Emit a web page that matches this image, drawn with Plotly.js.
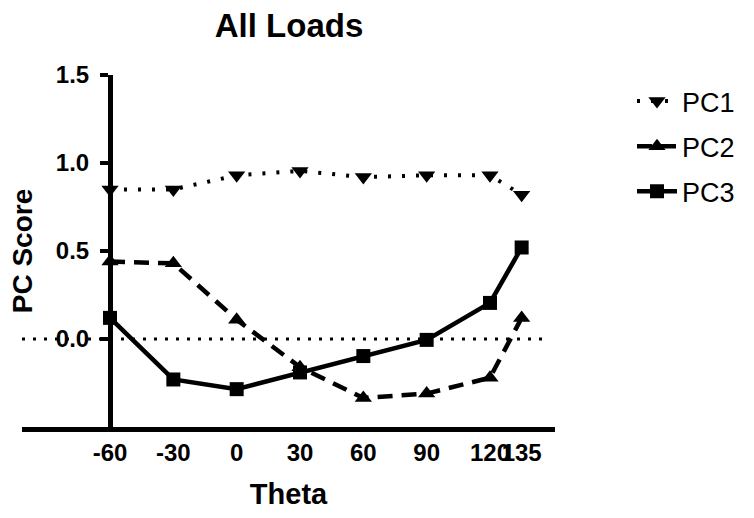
<!DOCTYPE html>
<html>
<head>
<meta charset="utf-8">
<script src="https://cdn.plot.ly/plotly-3.0.1.min.js"></script>
<style>html,body{margin:0;padding:0;background:#fff;}#chart{width:754px;height:518px;}</style>
</head>
<body>
<div id="chart"></div>
<script>
const theta = [-60, -30, 0, 30, 60, 90, 120, 135];
const tickLabels = ["-60", "-30", "0", "30", "60", "90", "120", "135"];
const pc1 = [0.85, 0.85, 0.93, 0.955, 0.92, 0.93, 0.93, 0.82];
const pc2 = [0.44, 0.43, 0.11, -0.16, -0.335, -0.31, -0.22, 0.12];
const pc3 = [0.12, -0.23, -0.285, -0.19, -0.097, -0.005, 0.205, 0.52];
const yTicks = [0, 0.5, 1.0, 1.5];
const yTickLabels = ["0.0", "0.5", "1.0", "1.5"];

const FONT = "Liberation Sans, Arial, Helvetica, sans-serif";

const traces = [
  {x: theta, y: pc1, name: "PC1", legendgroup: "a", mode: "lines+markers",
   line: {color: "#000", width: 4, dash: "3px,11px"},
   marker: {symbol: "triangle-down", size: 15, color: "#000"}},
  {x: theta, y: pc2, name: "PC2", legendgroup: "b", mode: "lines+markers",
   line: {color: "#000", width: 4.5, dash: "15px,9px"},
   marker: {symbol: "triangle-up", size: 15, color: "#000"}},
  {x: theta, y: pc3, name: "PC3", legendgroup: "c", mode: "lines+markers",
   line: {color: "#000", width: 4.5},
   marker: {symbol: "square", size: 14, color: "#000"}}
];

const L = 22, R = 555;
const layout = {
  width: 754, height: 518,
  margin: {l: L, r: 754 - R, t: 75, b: 91},
  paper_bgcolor: "#fff", plot_bgcolor: "#fff",
  showlegend: true,
  font: {family: FONT, color: "#000"},
  title: {text: "All Loads", font: {family: FONT, size: 33, weight: "bold", color: "#000"},
          xref: "container", x: 289/754, xanchor: "center", yref: "container", y: 1 - 25/518, yanchor: "middle"},
  xaxis: {range: [-101.7, 150.8], showgrid: false, zeroline: false,
          showline: true, linecolor: "#000", linewidth: 5,
          ticks: "", tickvals: theta, ticktext: tickLabels, tickangle: 0,
          tickfont: {family: FONT, size: 24, weight: "bold", color: "#000"},
          title: {text: "Theta", font: {family: FONT, size: 29, weight: "bold", color: "#000"}, standoff: 20},
          automargin: false},
  yaxis: {range: [-0.5, 1.5], showgrid: false, zeroline: false,
          anchor: "free", position: (110 - L) / (R - L),
          showline: true, linecolor: "#000", linewidth: 5,
          ticks: "outside", ticklen: 8, tickwidth: 4, tickcolor: "#000",
          ticklabelstandoff: 6,
          tickvals: yTicks, ticktext: yTickLabels,
          tickfont: {family: FONT, size: 24, weight: "bold", color: "#000"},
          title: {text: "PC Score", font: {family: FONT, size: 28, weight: "bold", color: "#000"}, standoff: 14},
          automargin: false},
  shapes: [{type: "line", xref: "paper", yref: "y", x0: 0, x1: (543 - L) / (R - L), y0: 0, y1: 0,
            layer: "below", line: {color: "#000", width: 3, dash: "3px,8px"}}],
  legend: {x: (632 - L) / (R - L), xanchor: "left", y: 1 - (77 - 75) / 352, yanchor: "top",
           font: {family: FONT, size: 27, color: "#000"}, tracegroupgap: 7,
           itemwidth: 40, bgcolor: "rgba(0,0,0,0)"}
};

Plotly.newPlot("chart", traces, layout, {displayModeBar: false, staticPlot: true});
</script>
</body>
</html>
